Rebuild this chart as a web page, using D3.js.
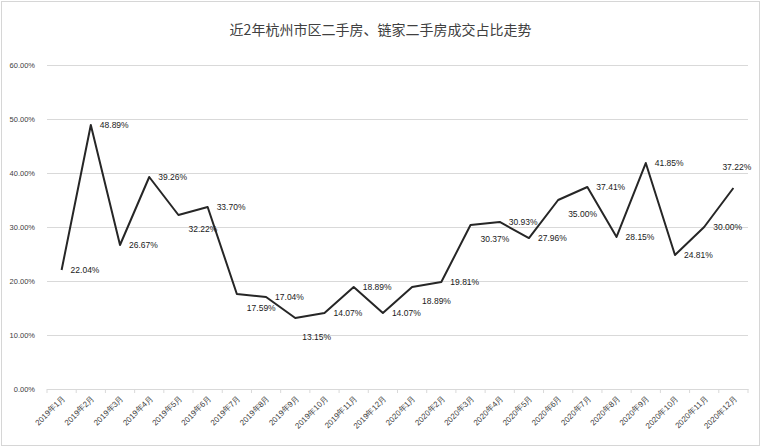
<!DOCTYPE html>
<html>
<head>
<meta charset="utf-8">
<script src="https://cdn.jsdelivr.net/npm/d3@7"></script>
<style>
  html, body { margin: 0; padding: 0; background: #fff; }
  svg { display: block; font-family: "Noto Sans CJK SC", "Noto Sans", sans-serif; }
</style>
</head>
<body>
<svg id="chart" width="761" height="447"></svg>
<script>
// Monthly share, in percent
const months = [
  "2019年1月", "2019年2月", "2019年3月", "2019年4月", "2019年5月", "2019年6月",
  "2019年7月", "2019年8月", "2019年9月", "2019年10月", "2019年11月", "2019年12月",
  "2020年1月", "2020年2月", "2020年3月", "2020年4月", "2020年5月", "2020年6月",
  "2020年7月", "2020年8月", "2020年9月", "2020年10月", "2020年11月", "2020年12月"
];
const shares = [
  22.04, 48.89, 26.67, 39.26, 32.22, 33.70,
  17.59, 17.04, 13.15, 14.07, 18.89, 14.07,
  18.89, 19.81, 30.37, 30.93, 27.96, 35.00,
  37.41, 28.15, 41.85, 24.81, 30.00, 37.22
];
const yTicks = [0, 10, 20, 30, 40, 50, 60];
const titleText = "近2年杭州市区二手房、链家二手房成交占比走势";

// Where each value label sits relative to its point: r = right, br = below right, b = below, t = above
const labelSide = [
  "r", "r", "r", "r", "br", "r",
  "br", "r", "b", "r", "r", "r",
  "br", "r", "br", "r", "r", "br",
  "r", "r", "r", "r", "r", "t"
];
const sideOffset = {
  r:  { dx: 9,   dy: 1 },
  br: { dx: 10,  dy: 15 },
  b:  { dx: 7,   dy: 20 },
  t:  { dx: -11, dy: -20 }
};

const W = 761, H = 447;
const plot = { left: 47, right: 748, top: 65, bottom: 389 };

const svg = d3.select("#chart");

// Outer frame
svg.append("rect")
  .attr("x", 1.5).attr("y", 1.5)
  .attr("width", W - 3).attr("height", H - 3)
  .attr("fill", "#fff").attr("stroke", "#d6d6d6");

const x = d3.scaleBand().domain(months).range([plot.left, plot.right]).padding(0);
const y = d3.scaleLinear().domain([0, 60]).range([plot.bottom, plot.top]);
const cx = d => x(d) + x.bandwidth() / 2;

// Title
svg.append("text")
  .attr("x", W / 2).attr("y", 35)
  .attr("text-anchor", "middle")
  .attr("font-size", 14)
  .attr("fill", "#404040")
  .text(titleText);

// Horizontal gridlines and percentage labels
const yAxis = d3.axisLeft(y)
  .tickValues(yTicks)
  .tickSize(-(plot.right - plot.left))
  .tickPadding(12)
  .tickFormat(v => v.toFixed(2) + "%");

const gy = svg.append("g")
  .attr("transform", `translate(${plot.left},0)`)
  .call(yAxis);
gy.select(".domain").remove();
gy.selectAll(".tick line").attr("stroke", "#d9d9d9").attr("stroke-width", 1);
gy.selectAll(".tick text")
  .attr("fill", "#404040")
  .attr("font-size", 7.5)
  .attr("font-family", "'Liberation Sans', Arial, sans-serif");

// Category axis with ticks between months
const xAxis = d3.axisBottom(x).tickSize(0).tickPadding(0);
const gx = svg.append("g")
  .attr("transform", `translate(0,${plot.bottom})`)
  .call(xAxis);
gx.select(".domain").attr("stroke", "#d9d9d9");
gx.selectAll(".tick text")
  .attr("fill", "#404040")
  .attr("font-size", 8)
  .attr("text-anchor", "end")
  .attr("dy", 0)
  .attr("transform", "translate(4,10) rotate(-45)");

svg.append("g")
  .selectAll("line")
  .data(months.concat([null]))
  .join("line")
  .attr("x1", (d, i) => i < months.length ? x(d) : plot.right)
  .attr("x2", (d, i) => i < months.length ? x(d) : plot.right)
  .attr("y1", plot.bottom)
  .attr("y2", plot.bottom + 4)
  .attr("stroke", "#d9d9d9");

// Trend line
const pts = months.map((m, i) => ({ m, v: shares[i], side: labelSide[i] }));
svg.append("path")
  .datum(pts)
  .attr("fill", "none")
  .attr("stroke", "#262626")
  .attr("stroke-width", 2)
  .attr("stroke-linejoin", "round")
  .attr("d", d3.line().x(d => cx(d.m)).y(d => y(d.v)));

// Value labels
svg.append("g")
  .selectAll("text")
  .data(pts)
  .join("text")
  .attr("x", d => cx(d.m) + sideOffset[d.side].dx)
  .attr("y", d => y(d.v) + sideOffset[d.side].dy)
  .attr("dominant-baseline", "middle")
  .attr("font-size", 8.5)
  .attr("font-family", "'Liberation Sans', Arial, sans-serif")
  .attr("fill", "#1a1a1a")
  .text(d => d.v.toFixed(2) + "%");
</script>
</body>
</html>
